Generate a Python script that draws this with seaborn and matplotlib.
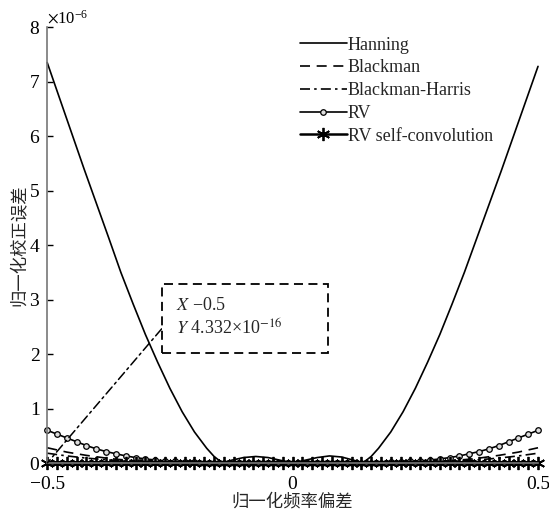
import matplotlib
matplotlib.use('Agg')
import matplotlib.pyplot as plt
import pandas as pd
import seaborn as sns
import numpy as np
from matplotlib.ticker import ScalarFormatter

# Hanning curve (values in units of 1e-6)
han_x = [-0.5, -0.475, -0.45, -0.425, -0.4, -0.375, -0.35, -0.325, -0.3, -0.275,
         -0.25, -0.225, -0.2, -0.175, -0.16, -0.143, -0.125, -0.1, -0.075, -0.05,
         -0.025, 0.0, 0.025, 0.05, 0.075, 0.1, 0.125, 0.143, 0.16, 0.175,
         0.2, 0.225, 0.25, 0.275, 0.3, 0.325, 0.35, 0.375, 0.4, 0.425,
         0.45, 0.475, 0.5]
han_y = [7.35, 6.70, 6.05, 5.40, 4.77, 4.14, 3.50, 2.92, 2.36, 1.85,
         1.37, 0.94, 0.57, 0.27, 0.12, 0.0, 0.05, 0.10, 0.12, 0.10,
         0.05, 0.0, 0.05, 0.10, 0.13, 0.11, 0.05, 0.0, 0.12, 0.27,
         0.57, 0.94, 1.37, 1.85, 2.36, 2.92, 3.50, 4.12, 4.74, 5.36,
         6.00, 6.64, 7.28]

# shared grid for the other windows
grid_x = np.round(np.linspace(-0.5, 0.5, 51), 2)

blackman_y = [0.28, 0.24, 0.20, 0.17, 0.14, 0.115, 0.09, 0.07, 0.055, 0.04,
              0.03, 0.02, 0.013, 0.008, 0.004, 0.002, 0, 0, 0, 0,
              0, 0, 0, 0, 0, 0, 0, 0, 0, 0,
              0, 0, 0, 0, 0, 0.002, 0.004, 0.008, 0.013, 0.02,
              0.03, 0.04, 0.055, 0.07, 0.09, 0.115, 0.14, 0.17, 0.20, 0.24,
              0.28]
bharris_y = [0.18, 0.155, 0.13, 0.11, 0.09, 0.075, 0.06, 0.048, 0.037, 0.028,
             0.02, 0.014, 0.009, 0.005, 0.003, 0.001, 0, 0, 0, 0,
             0, 0, 0, 0, 0, 0, 0, 0, 0, 0,
             0, 0, 0, 0, 0, 0.001, 0.003, 0.005, 0.009, 0.014,
             0.02, 0.028, 0.037, 0.048, 0.06, 0.075, 0.09, 0.11, 0.13, 0.155,
             0.18]
rv_y = [0.60, 0.53, 0.46, 0.39, 0.32, 0.26, 0.21, 0.17, 0.13, 0.10,
        0.075, 0.055, 0.04, 0.028, 0.019, 0.012, 0.007, 0.004, 0.002, 0.001,
        0, 0, 0, 0, 0, 0, 0, 0, 0, 0,
        0, 0.001, 0.002, 0.004, 0.007, 0.012, 0.019, 0.028, 0.04, 0.055,
        0.075, 0.10, 0.13, 0.17, 0.21, 0.26, 0.32, 0.39, 0.46, 0.53,
        0.60]
rvconv_y = [0.0] * 51

if __name__ == '__main__':
    sns.set_style('ticks', {'xtick.direction': 'in', 'ytick.direction': 'in'})
    plt.rcParams['font.family'] = ['Liberation Serif', 'DejaVu Serif']
    plt.rcParams['mathtext.fontset'] = 'stix'

    fig = plt.figure(figsize=(5.49, 5.22), dpi=100)
    ax = fig.add_axes([0.086, 0.113, 0.894, 0.835])

    sns.lineplot(x=np.array(han_x), y=np.array(han_y) * 1e-6, ax=ax, color='k',
                 lw=1.2, label='Hanning')
    sns.lineplot(x=grid_x, y=np.array(blackman_y) * 1e-6, ax=ax, color='k',
                 lw=1.2, linestyle=(0, (6, 4)), label='Blackman')
    sns.lineplot(x=grid_x, y=np.array(bharris_y) * 1e-6, ax=ax, color='k',
                 lw=1.2, linestyle=(0, (6, 2.5, 1.5, 2.5)), label='Blackman-Harris')
    sns.lineplot(x=grid_x, y=np.array(rv_y) * 1e-6, ax=ax, color='k', lw=1.2,
                 marker='o', markersize=4, markerfacecolor='#dddddd',
                 markeredgecolor='k', markeredgewidth=0.9, label='RV')
    sns.lineplot(x=grid_x, y=np.array(rvconv_y) * 1e-6, ax=ax, color='k', lw=1.8,
                 label='RV self-convolution')
    star = ax.lines[-1]
    star.set_linestyle('-')
    star.set_marker((6, 2, 0))
    star.set_markersize(9.5)
    star.set_markeredgewidth(1.3)
    star.set_markeredgecolor('k')
    for ln in ax.lines:
        ln.set_clip_on(False)

    ax.set_xlim(-0.5, 0.5)
    ax.set_ylim(0, 8e-6)
    ax.set_xticks([-0.5, 0, 0.5])
    ax.set_xticklabels(['\u22120.5', '0', '0.5'])
    ax.set_yticks(np.arange(0, 9) * 1e-6)
    fmt = ScalarFormatter(useMathText=True)
    fmt.set_powerlimits((-3, 3))
    ax.yaxis.set_major_formatter(fmt)
    ax.yaxis.get_offset_text().set_fontsize(12)
    ax.tick_params(labelsize=14, length=4, width=1, colors='k')
    ax.tick_params(axis='x', pad=9)
    ax.tick_params(axis='y', pad=5)
    for s in ['top', 'right']:
        ax.spines[s].set_visible(False)
    for s in ['left', 'bottom']:
        ax.spines[s].set_color('#777777')
        ax.spines[s].set_linewidth(1.2)

    ax.set_xlabel('归一化频率偏差', family=['Noto Sans CJK SC'], fontsize=12.5, labelpad=0)
    ax.set_ylabel('归一化校正误差', family=['Noto Sans CJK SC'], fontsize=12.5, labelpad=0)

    ax.legend(loc='upper left', bbox_to_anchor=(0.5, 0.995), frameon=False,
              fontsize=13, handlelength=2.6, handletextpad=0.05, labelspacing=0.32,
              borderaxespad=0)

    ax.annotate('$X$ \u22120.5\n$Y$ 4.332\u00d710$^{-16}$        ', xy=(-0.5, 0),
                xytext=(-0.238, 2.66e-6), textcoords='data', ha='left', va='center',
                fontsize=13, linespacing=1.3,
                bbox=dict(boxstyle='square,pad=0.75', fc='white', ec='k',
                          ls=(0, (5, 3)), lw=1.3),
                arrowprops=dict(arrowstyle='-', ls=(0, (6, 2.5, 1.5, 2.5)), lw=1.1,
                                color='k', relpos=(0, 0.64), shrinkA=0, shrinkB=0))

    fig.savefig('out.png', dpi=100)
